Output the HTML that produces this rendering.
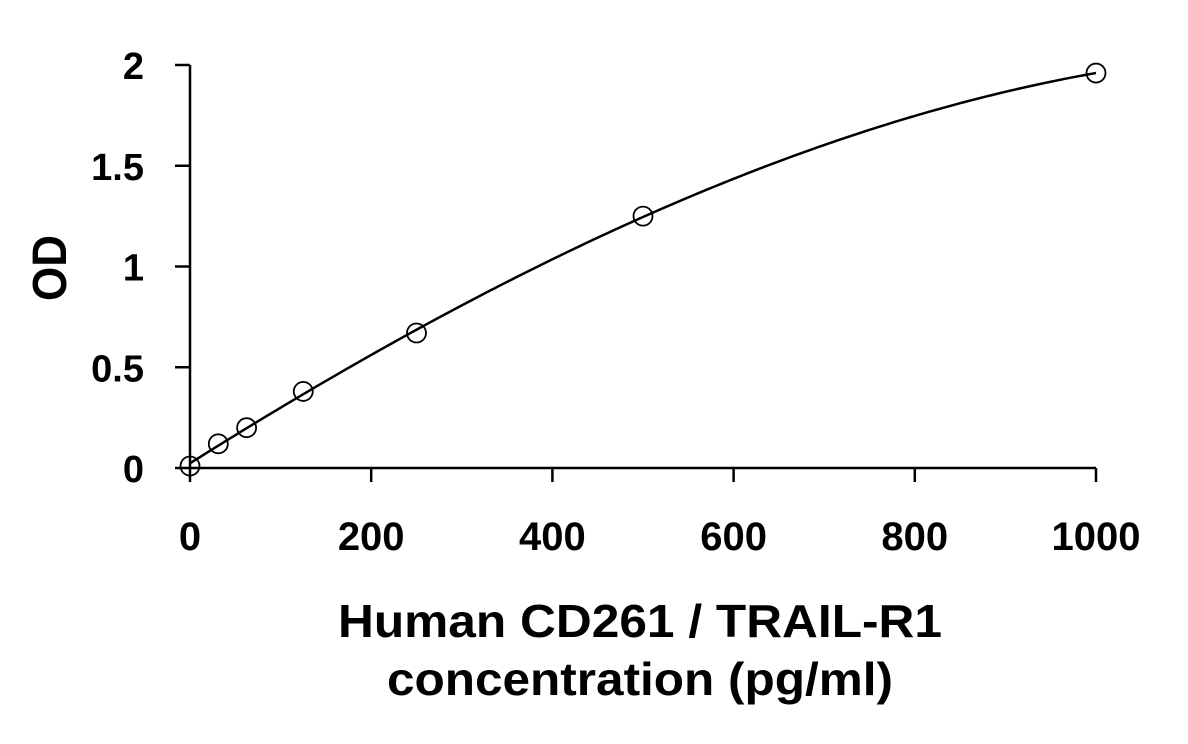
<!DOCTYPE html>
<html><head><meta charset="utf-8"><style>
body{margin:0;background:#fff}
svg text{font-family:"Liberation Sans",Arial,sans-serif;font-weight:bold;fill:#000}
</style></head><body>
<svg id="chart" width="1188" height="739" viewBox="0 0 1188 739" xmlns="http://www.w3.org/2000/svg">
<g id="axes"></g><g id="plot"></g>
<text x="0" y="0" font-size="48" text-anchor="middle" textLength="66" lengthAdjust="spacingAndGlyphs" transform="translate(66,268) rotate(-90)">OD</text>
<text x="640" y="637" font-size="46" text-anchor="middle" textLength="604" lengthAdjust="spacingAndGlyphs">Human CD261 / TRAIL-R1</text>
<text x="640" y="695" font-size="46" text-anchor="middle" textLength="506" lengthAdjust="spacingAndGlyphs">concentration (pg/ml)</text>
</svg>
<script>
const concentrations=[0,31.25,62.5,125,250,500,1000];
const odValues=[0.01,0.12,0.2,0.38,0.67,1.25,1.96];
const xTicks=[0,200,400,600,800,1000];
const yTicks=[0,0.5,1,1.5,2];
const yTickLabels=["0","0.5","1","1.5","2"];
const NS="http://www.w3.org/2000/svg";
const X0=190,X1=1096,Y0=468,Y1=65;
function xs(v){return X0+(v-0)/(1000-0)*(X1-X0);}
function ys(v){return Y0-(v-0)/(2-0)*(Y0-Y1);}
function mk(tag,attrs,parent){const e=document.createElementNS(NS,tag);for(const k in attrs)e.setAttribute(k,attrs[k]);parent.appendChild(e);return e;}
const axes=document.getElementById('axes'),plot=document.getElementById('plot');
let l=mk('line',{x1:X0,y1:Y1,x2:X0,y2:Y0,stroke:'#000','stroke-width':2.5},axes);


l=mk('line',{x1:X0,y1:Y0,x2:X1,y2:Y0,stroke:'#000','stroke-width':2.5},axes);


yTicks.forEach((v,i)=>{
 const t=mk('line',{x1:X0-15,y1:ys(v),x2:X0,y2:ys(v),stroke:'#000','stroke-width':2.5},axes);
 
 
 const tx=mk('text',{x:144,y:ys(v)+14,'font-size':38,'text-anchor':'end'},axes);
 tx.textContent=yTickLabels[i];
 
 
});
xTicks.forEach(v=>{
 const t=mk('line',{x1:xs(v),y1:Y0,x2:xs(v),y2:Y0+14,stroke:'#000','stroke-width':2.5},axes);
 
 
 const tx=mk('text',{x:xs(v),y:550,'font-size':40,'text-anchor':'middle'},axes);
 tx.textContent=String(v);
 
 
});
// least-squares cubic fit computed from the data
function fit(xsArr,ysArr,deg){
 const N=deg+1,A=[],b=[];
 for(let r=0;r<N;r++){A.push(new Array(N).fill(0));b.push(0);}
 xsArr.forEach((x,k)=>{const u=x/1000;for(let r=0;r<N;r++){for(let c=0;c<N;c++)A[r][c]+=Math.pow(u,r+c);b[r]+=Math.pow(u,r)*ysArr[k];}});
 for(let i=0;i<N;i++){let p=i;for(let j=i+1;j<N;j++)if(Math.abs(A[j][i])>Math.abs(A[p][i]))p=j;
  [A[i],A[p]]=[A[p],A[i]];[b[i],b[p]]=[b[p],b[i]];
  for(let j=i+1;j<N;j++){const f=A[j][i]/A[i][i];for(let c=i;c<N;c++)A[j][c]-=f*A[i][c];b[j]-=f*b[i];}}
 const co=new Array(N).fill(0);
 for(let i=N-1;i>=0;i--){let s=b[i];for(let c=i+1;c<N;c++)s-=A[i][c]*co[c];co[i]=s/A[i][i];}
 return u=>co.reduce((s,c,i)=>s+c*Math.pow(u,i),0);
}
const f=fit(concentrations,odValues,3);
const xmin=concentrations[0],xmax=concentrations[concentrations.length-1];
let p='';
for(let i=0;i<=200;i++){const x=xmin+(xmax-xmin)*i/200;p+=(i?'L':'M')+xs(x).toFixed(2)+','+ys(f(x/1000)).toFixed(2);}
const c=mk('path',{d:p,fill:'none',stroke:'#000','stroke-width':2.5},plot);


concentrations.forEach((v,i)=>{
 const pt=mk('circle',{cx:xs(v),cy:ys(odValues[i]),r:9.5,fill:'none',stroke:'#000','stroke-width':1.8},plot);
 
 
});
</script>
</body></html>
